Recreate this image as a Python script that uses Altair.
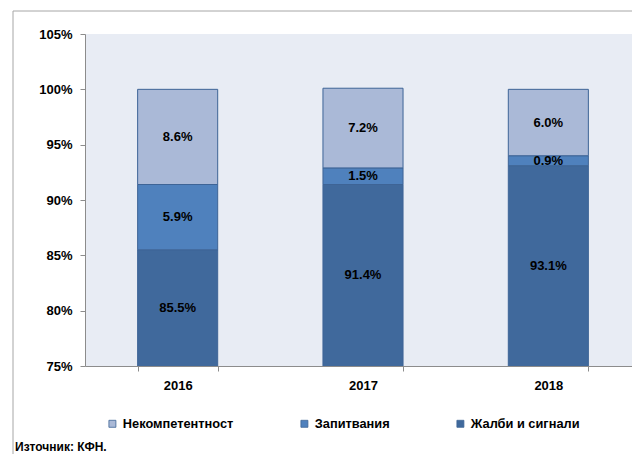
import altair as alt
import pandas as pd

# ---- data ----
years = ["2016", "2017", "2018"]
series = ["Некомпетентност", "Запитвания", "Жалби и сигнали"]
complaints = [85.5, 91.4, 93.1]     # Жалби и сигнали
inquiries = [5.9, 1.5, 0.9]         # Запитвания
incompetence = [8.6, 7.2, 6.0]      # Некомпетентност
colors = ["#AAB9D7", "#4F81BD", "#40699C"]
y_ticks = [75, 80, 85, 90, 95, 100, 105]
source_text = "Източник: КФН."

rows = []
for i, yr in enumerate(years):
    rows.append({"year": yr, "series": series[2], "value": complaints[i], "order": 0})
    rows.append({"year": yr, "series": series[1], "value": inquiries[i], "order": 1})
    rows.append({"year": yr, "series": series[0], "value": incompetence[i], "order": 2})
df = pd.DataFrame(rows)

y_min, y_max = y_ticks[0], y_ticks[-1]
FONT = "Liberation Sans"
GRAY = "#8C8C8C"

base = alt.Chart(df).transform_stack(
    stack="value", groupby=["year"], as_=["v0", "v1"],
    sort=[alt.SortField("order", order="ascending")]
).transform_calculate(
    mid=f"(max(datum.v0, {y_min}) + datum.v1) / 2",
    label="format(datum.value, '.1f') + '%'"
)

x_enc = alt.X(
    "year:N", title=None, sort=years,
    scale=alt.Scale(paddingInner=0.568, paddingOuter=0.284),
    axis=alt.Axis(labelAngle=0, labelFont=FONT, labelFontSize=13, labelFontWeight="bold",
                  labelColor="#000000", domainColor=GRAY, tickColor=GRAY, tickSize=5,
                  tickBand="extent", labelPadding=8),
)
y_scale = alt.Scale(domain=[y_min, y_max], nice=False, zero=False)
y_axis = alt.Axis(values=y_ticks, labelExpr="datum.value + '%'", title=None, grid=False,
                  domainColor=GRAY, tickColor=GRAY, tickSize=5, labelPadding=8,
                  labelFont=FONT, labelFontSize=13, labelFontWeight="bold", labelColor="#000000")

bars = base.mark_bar(clip=True, stroke="#3E6496", strokeWidth=1).encode(
    x=x_enc,
    y=alt.Y("v0:Q", scale=y_scale, axis=y_axis),
    y2="v1:Q",
    color=alt.Color(
        "series:N",
        scale=alt.Scale(domain=series, range=colors),
        legend=alt.Legend(title=None, orient="none", legendX=21, legendY=383,
                          direction="horizontal", symbolType="square", symbolSize=49,
                          symbolStrokeWidth=0.8, symbolStrokeColor="#3E6496",
                          labelFont=FONT, labelFontSize=12.8, labelFontWeight="bold",
                          labelColor="#000000", columnPadding=64, labelOffset=4, padding=0),
    ),
    order=alt.Order("order:Q"),
)

labels = base.mark_text(font=FONT, fontSize=13, fontWeight="bold", color="#000000").encode(
    x=alt.X("year:N", sort=years),
    y=alt.Y("mid:Q"),
    text="label:N",
)

one = pd.DataFrame({"k": [0]})
frame_left = alt.Chart(one).mark_rule(color="#A6A6A6", strokeWidth=1).encode(
    x=alt.value(-72), y=alt.value(-23), y2=alt.value(520)
)
frame_top = alt.Chart(one).mark_rule(color="#A6A6A6", strokeWidth=1).encode(
    x=alt.value(-72), x2=alt.value(700), y=alt.value(-23)
)
source = alt.Chart(pd.DataFrame({"t": [source_text]})).mark_text(
    align="left", baseline="middle", font=FONT, fontSize=12, fontWeight="bold", color="#000000"
).encode(x=alt.value(-70), y=alt.value(413), text="t:N")

chart = alt.layer(frame_left, frame_top, bars, labels, source).properties(
    width=556, height=332,
    padding={"left": 77, "top": 26, "right": -9, "bottom": 88},
    autosize=alt.AutoSizeParams(type="none"),
    background="white",
).configure_view(fill="#E8ECF4", stroke=None)

chart.save("out.html", embed_options={"renderer": "svg", "actions": False})
